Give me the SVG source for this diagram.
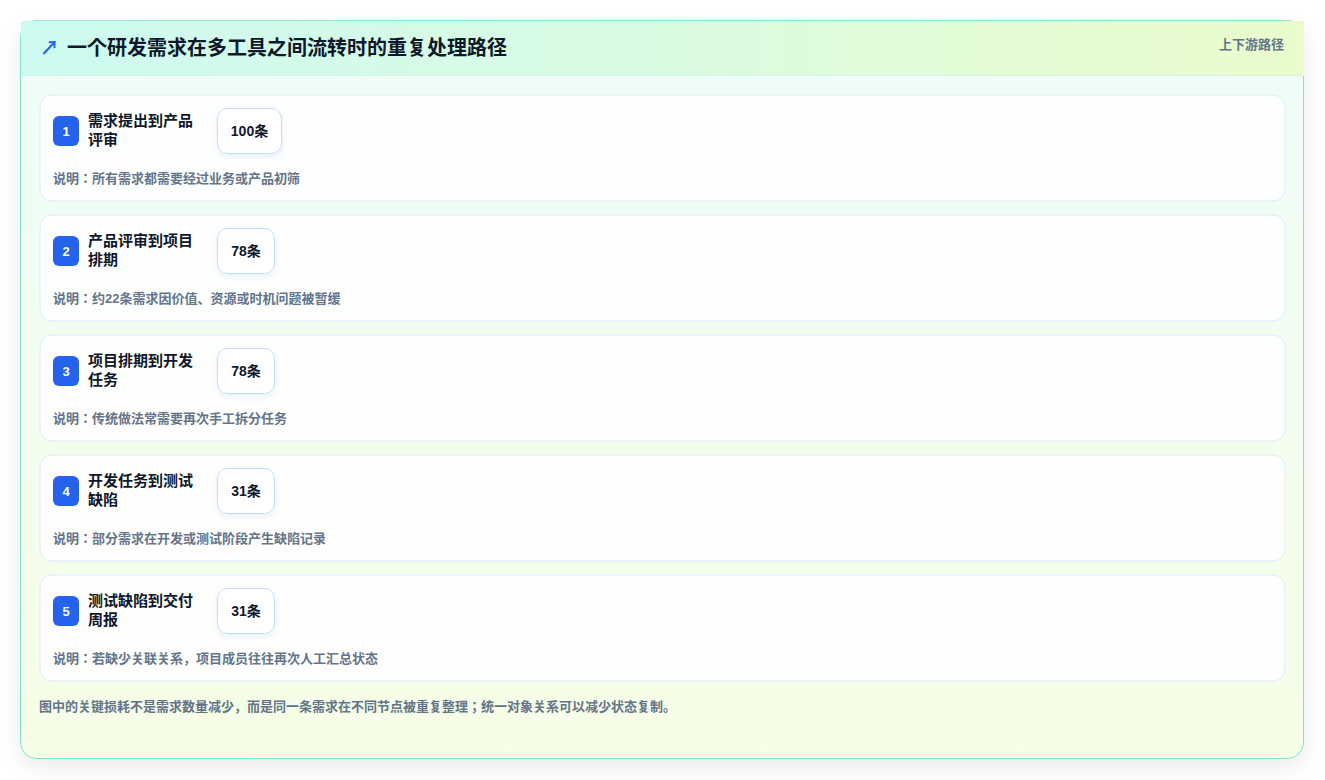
<svg xmlns="http://www.w3.org/2000/svg" width="1325" height="780" viewBox="0 0 1325 780">
  <defs>
    <linearGradient id="cardBg" x1="0" y1="0" x2="0" y2="1">
      <stop offset="0" stop-color="#effdf9"/>
      <stop offset="1" stop-color="#f6fee6"/>
    </linearGradient>
    <linearGradient id="headBg" x1="0" y1="0" x2="1" y2="0">
      <stop offset="0" stop-color="#cdfaf0"/>
      <stop offset="0.45" stop-color="#d9fbe3"/>
      <stop offset="1" stop-color="#eafccc"/>
    </linearGradient>
    <filter id="cardShadow" x="-5%" y="-5%" width="110%" height="115%">
      <feDropShadow dx="0" dy="8" stdDeviation="10" flood-color="#0f172a" flood-opacity="0.08"/>
    </filter>
    <filter id="boxShadow" x="-30%" y="-30%" width="160%" height="170%">
      <feDropShadow dx="0" dy="3" stdDeviation="3" flood-color="#1e3a8a" flood-opacity="0.08"/>
    </filter>
  </defs>
  <style>
    text { font-family: "Liberation Sans", "Noto Sans CJK JP", sans-serif; }
    .step { fill: #ffffff; fill-opacity: 0.85; stroke: #dbeafe; stroke-width: 1; }
    .badge { fill: #2563eb; }
    .badgeNum { fill: #ffffff; font-size: 13px; font-weight: 700; text-anchor: middle; }
    .stitle { fill: #0f172a; font-size: 15px; font-weight: 700; }
    .cbox { fill: #ffffff; stroke: #bfdbfe; stroke-width: 1; }
    .ctext { fill: #0f172a; font-size: 14px; font-weight: 700; text-anchor: middle; }
    .desc { fill: #64748b; font-size: 13px; font-weight: 700; }
  </style>
  <rect x="0" y="0" width="1325" height="780" fill="#ffffff"/>
  <g id="card">
    <rect x="20.5" y="20.5" width="1283" height="738" rx="16" fill="url(#cardBg)" stroke="#7ee3cf" stroke-width="1" filter="url(#cardShadow)"/>
    <rect x="21" y="21" width="1283" height="54" fill="url(#headBg)"/>
    <line x1="21" y1="75.5" x2="1304" y2="75.5" stroke="#d4f4ec" stroke-width="1"/>
    <line x1="34" y1="20.5" x2="1292" y2="20.5" stroke="#8ee8d6" stroke-width="1"/>
    <text x="40" y="55" fill="#2563eb" font-size="19" font-weight="700">↗</text>
    <text x="67" y="55" fill="#0f172a" font-size="20" font-weight="700">一个研发需求在多工具之间流转时的重复处理路径</text>
    <text x="1284" y="49" fill="#64748b" font-size="13" font-weight="700" text-anchor="end">上下游路径</text>
  </g>
  <g id="step1">
    <rect class="step" x="40" y="95" width="1245" height="106" rx="12"/>
    <rect class="badge" x="53" y="116" width="26" height="30" rx="6"/>
    <text class="badgeNum" x="66" y="135.5">1</text>
    <text class="stitle" x="88" y="126">需求提出到产品</text>
    <text class="stitle" x="88" y="145">评审</text>
    <rect class="cbox" x="217.5" y="108.5" width="64" height="45" rx="10" filter="url(#boxShadow)"/>
    <text class="ctext" x="249.5" y="136">100条</text>
    <text class="desc" x="53" y="183">说明：所有需求都需要经过业务或产品初筛</text>
  </g>
  <g id="step2">
    <rect class="step" x="40" y="215" width="1245" height="106" rx="12"/>
    <rect class="badge" x="53" y="236" width="26" height="30" rx="6"/>
    <text class="badgeNum" x="66" y="255.5">2</text>
    <text class="stitle" x="88" y="246">产品评审到项目</text>
    <text class="stitle" x="88" y="265">排期</text>
    <rect class="cbox" x="217.5" y="228.5" width="57" height="45" rx="10" filter="url(#boxShadow)"/>
    <text class="ctext" x="246" y="256">78条</text>
    <text class="desc" x="53" y="303">说明：约22条需求因价值、资源或时机问题被暂缓</text>
  </g>
  <g id="step3">
    <rect class="step" x="40" y="335" width="1245" height="106" rx="12"/>
    <rect class="badge" x="53" y="356" width="26" height="30" rx="6"/>
    <text class="badgeNum" x="66" y="375.5">3</text>
    <text class="stitle" x="88" y="366">项目排期到开发</text>
    <text class="stitle" x="88" y="385">任务</text>
    <rect class="cbox" x="217.5" y="348.5" width="57" height="45" rx="10" filter="url(#boxShadow)"/>
    <text class="ctext" x="246" y="376">78条</text>
    <text class="desc" x="53" y="423">说明：传统做法常需要再次手工拆分任务</text>
  </g>
  <g id="step4">
    <rect class="step" x="40" y="455" width="1245" height="106" rx="12"/>
    <rect class="badge" x="53" y="476" width="26" height="30" rx="6"/>
    <text class="badgeNum" x="66" y="495.5">4</text>
    <text class="stitle" x="88" y="486">开发任务到测试</text>
    <text class="stitle" x="88" y="505">缺陷</text>
    <rect class="cbox" x="217.5" y="468.5" width="57" height="45" rx="10" filter="url(#boxShadow)"/>
    <text class="ctext" x="246" y="496">31条</text>
    <text class="desc" x="53" y="543">说明：部分需求在开发或测试阶段产生缺陷记录</text>
  </g>
  <g id="step5">
    <rect class="step" x="40" y="575" width="1245" height="106" rx="12"/>
    <rect class="badge" x="53" y="596" width="26" height="30" rx="6"/>
    <text class="badgeNum" x="66" y="615.5">5</text>
    <text class="stitle" x="88" y="606">测试缺陷到交付</text>
    <text class="stitle" x="88" y="625">周报</text>
    <rect class="cbox" x="217.5" y="588.5" width="57" height="45" rx="10" filter="url(#boxShadow)"/>
    <text class="ctext" x="246" y="616">31条</text>
    <text class="desc" x="53" y="663">说明：若缺少关联关系，项目成员往往再次人工汇总状态</text>
  </g>
  <g id="connectors"></g>
  <g id="footer">
    <text class="desc" x="39" y="711">图中的关键损耗不是需求数量减少，而是同一条需求在不同节点被重复整理；统一对象关系可以减少状态复制。</text>
  </g>
</svg>
